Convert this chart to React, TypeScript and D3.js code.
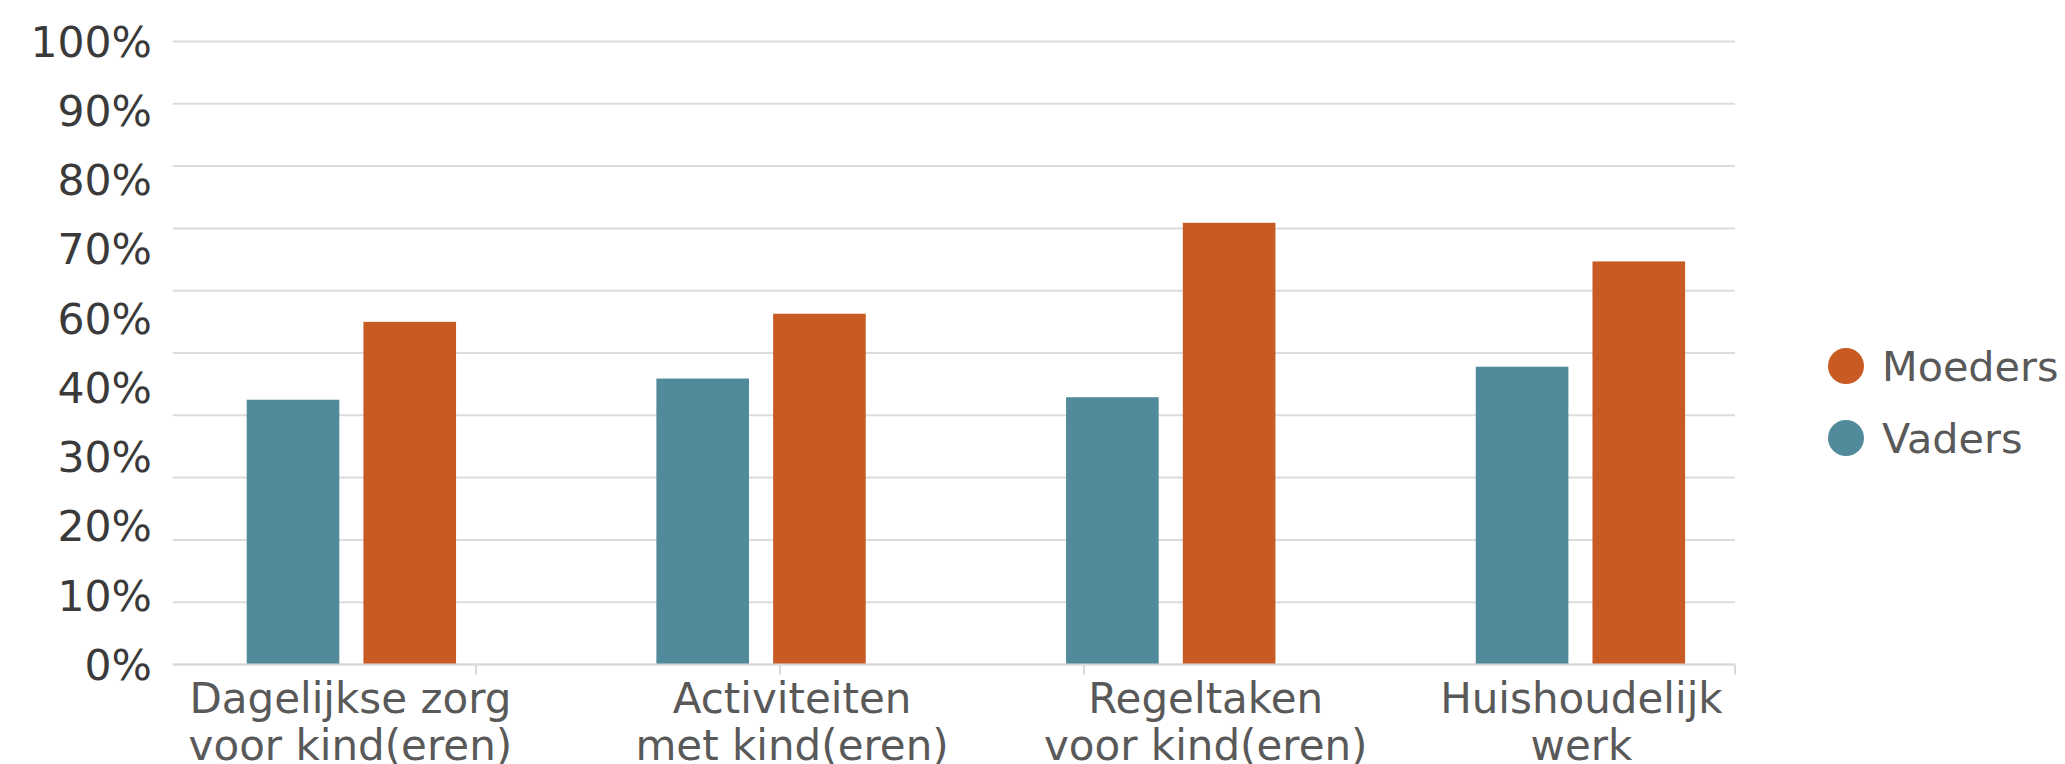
import React from "react";
import * as d3 from "d3";

const categories: string[][] = [
  ["Dagelijkse zorg", "voor kind(eren)"],
  ["Activiteiten", "met kind(eren)"],
  ["Regeltaken", "voor kind(eren)"],
  ["Huishoudelijk", "werk"],
];
const seriesNames = ["Vaders", "Moeders"];
const vaders = [42.5, 45.9, 42.9, 47.8];
const moeders = [55.0, 56.3, 70.9, 64.7];
const gridValues = [0, 10, 20, 30, 40, 50, 60, 70, 80, 90, 100];
const yTickLabels = ["100%", "90%", "80%", "70%", "60%", "40%", "30%", "20%", "10%", "0%"];
const legendOrder = ["Moeders", "Vaders"];

const COLORS: Record<string, string> = { Vaders: "#518a9b", Moeders: "#c85a23" };
const W = 2065;
const H = 764;
const L = {
  axisLeft: 172.7,
  axisRight: 1735,
  yTop: 41.5,
  yBottom: 664.5,
  bandStart: 246.7,
  bandEnd: 1685.1,
  bandPad: 0.489,
  innerPad: 0.2065,
  xTicks: [476, 780, 1084, 1735],
  labelDx: [-1, 31, 35, 1],
  font: "DejaVu Sans, Verdana, sans-serif",
};

export default function App() {
  const y = d3.scaleLinear().domain([0, 100]).range([L.yBottom, L.yTop]);
  const x0 = d3
    .scaleBand<number>()
    .domain(categories.map((_, i) => i))
    .range([L.bandStart, L.bandEnd])
    .paddingInner(L.bandPad)
    .paddingOuter(0);
  const x1 = d3
    .scaleBand<string>()
    .domain(seriesNames)
    .range([0, x0.bandwidth()])
    .paddingInner(L.innerPad)
    .paddingOuter(0);
  const yLab = d3.scalePoint<string>().domain(yTickLabels).range([y(100), y(0)]);
  const values: Record<string, number[]> = { Vaders: vaders, Moeders: moeders };

  return (
    <svg
      width={W}
      height={H}
      style={{ position: "absolute", left: 0, top: 0, background: "#fff" }}
      fontFamily={L.font}
    >
      <rect width={W} height={H} fill="#fff" />
      {gridValues.map((v) => (
        <line key={v} x1={L.axisLeft} x2={L.axisRight} y1={y(v)} y2={y(v)} stroke="#dcdcdc" strokeWidth={2} />
      ))}
      {yTickLabels.map((t) => (
        <text key={t} x={152} y={yLab(t)} dy="0.36em" textAnchor="end" fontSize={42.5} fill="#3a3a3a">
          {t}
        </text>
      ))}
      {categories.map((_, i) =>
        seriesNames.map((s) => (
          <rect
            key={i + s}
            x={(x0(i) as number) + (x1(s) as number)}
            y={y(values[s][i])}
            width={x1.bandwidth()}
            height={y(0) - y(values[s][i])}
            fill={COLORS[s]}
          />
        ))
      )}
      <line x1={L.axisLeft} x2={L.axisRight} y1={y(0)} y2={y(0)} stroke="#d9d9d9" strokeWidth={2} />
      {L.xTicks.map((t) => (
        <line key={t} x1={t} x2={t} y1={y(0)} y2={y(0) + 10} stroke="#d9d9d9" strokeWidth={2} />
      ))}
      {categories.map((lines, i) => (
        <text
          key={i}
          x={(x0(i) as number) + x0.bandwidth() / 2 + L.labelDx[i]}
          y={712.7}
          textAnchor="middle"
          fontSize={42}
          fill="#595959"
        >
          {lines.map((ln, j) => (
            <tspan key={j} x={(x0(i) as number) + x0.bandwidth() / 2 + L.labelDx[i]} dy={j === 0 ? 0 : 47}>
              {ln}
            </tspan>
          ))}
        </text>
      ))}
      {legendOrder.map((s, i) => (
        <g key={s} transform={`translate(1846, ${366 + i * 72})`}>
          <circle r={18} fill={COLORS[s]} />
          <text x={36} dy="0.36em" fontSize={41.3} fill="#595959">
            {s}
          </text>
        </g>
      ))}
    </svg>
  );
}
